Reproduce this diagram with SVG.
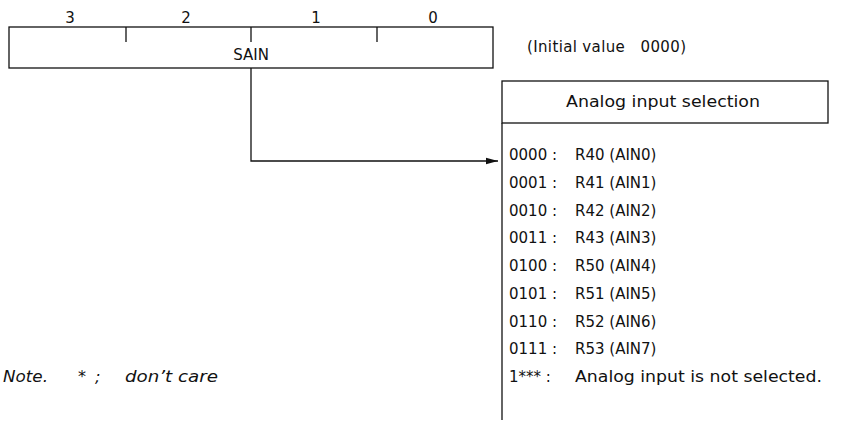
<svg xmlns="http://www.w3.org/2000/svg" width="850" height="423" viewBox="0 0 850 423">
<defs>
<style>
text{font-family:"DejaVu Sans","Liberation Sans",sans-serif;font-size:15px;fill:#111}
.ln{stroke:#111;stroke-width:1.3;fill:none}
.it{font-style:italic;font-size:16px}
</style>
<marker id="ah" markerWidth="12" markerHeight="8" refX="12" refY="4" orient="auto" markerUnits="userSpaceOnUse">
<path d="M0,0.8 L12,4 L0,7.2 Z" fill="#111"/>
</marker>
</defs>
<rect width="850" height="423" fill="#fff"/>
<g id="register">
<rect x="9" y="27" width="484" height="41" class="ln"/>
<line x1="126" y1="27" x2="126" y2="42" class="ln"/>
<line x1="251" y1="27" x2="251" y2="42" class="ln"/>
<line x1="377" y1="27" x2="377" y2="42" class="ln"/>
<text x="70" y="23" text-anchor="middle">3</text>
<text x="186" y="23" text-anchor="middle">2</text>
<text x="316" y="23" text-anchor="middle">1</text>
<text x="433" y="23" text-anchor="middle">0</text>
<text x="251" y="60" text-anchor="middle" font-size="13.5">SAIN</text>
</g>
<g id="initial">
<text x="527" y="52" textLength="159" lengthAdjust="spacing" xml:space="preserve">(Initial value   0000)</text>
</g>
<g id="table">
<rect x="502" y="81" width="326" height="42" class="ln"/>
<line x1="502" y1="123" x2="502" y2="420" class="ln"/>
<text x="663" y="107" text-anchor="middle" font-size="16.5" textLength="194" lengthAdjust="spacingAndGlyphs">Analog input selection</text>
<g id="rows">
<text x="509" y="160">0000 :</text><text x="575" y="160">R40 (AIN0)</text>
<text x="509" y="188">0001 :</text><text x="575" y="188">R41 (AIN1)</text>
<text x="509" y="216">0010 :</text><text x="575" y="216">R42 (AIN2)</text>
<text x="509" y="243">0011 :</text><text x="575" y="243">R43 (AIN3)</text>
<text x="509" y="271">0100 :</text><text x="575" y="271">R50 (AIN4)</text>
<text x="509" y="299">0101 :</text><text x="575" y="299">R51 (AIN5)</text>
<text x="509" y="327">0110 :</text><text x="575" y="327">R52 (AIN6)</text>
<text x="509" y="354">0111 :</text><text x="575" y="354">R53 (AIN7)</text>
<text x="509" y="382">1*** :</text><text x="575" y="382" font-size="16" textLength="247" lengthAdjust="spacingAndGlyphs">Analog input is not selected.</text>
</g>
</g>
<g id="note">
<text x="3" y="382" class="it" textLength="45" lengthAdjust="spacingAndGlyphs">Note.</text>
<text x="78" y="382" class="it">*</text>
<text x="95" y="382" class="it">;</text>
<text x="125" y="382" class="it" textLength="93" lengthAdjust="spacingAndGlyphs">don’t care</text>
</g>
<g id="connectors">
<polyline points="251,68 251,161 498,161" class="ln" marker-end="url(#ah)"/>
</g>
</svg>
